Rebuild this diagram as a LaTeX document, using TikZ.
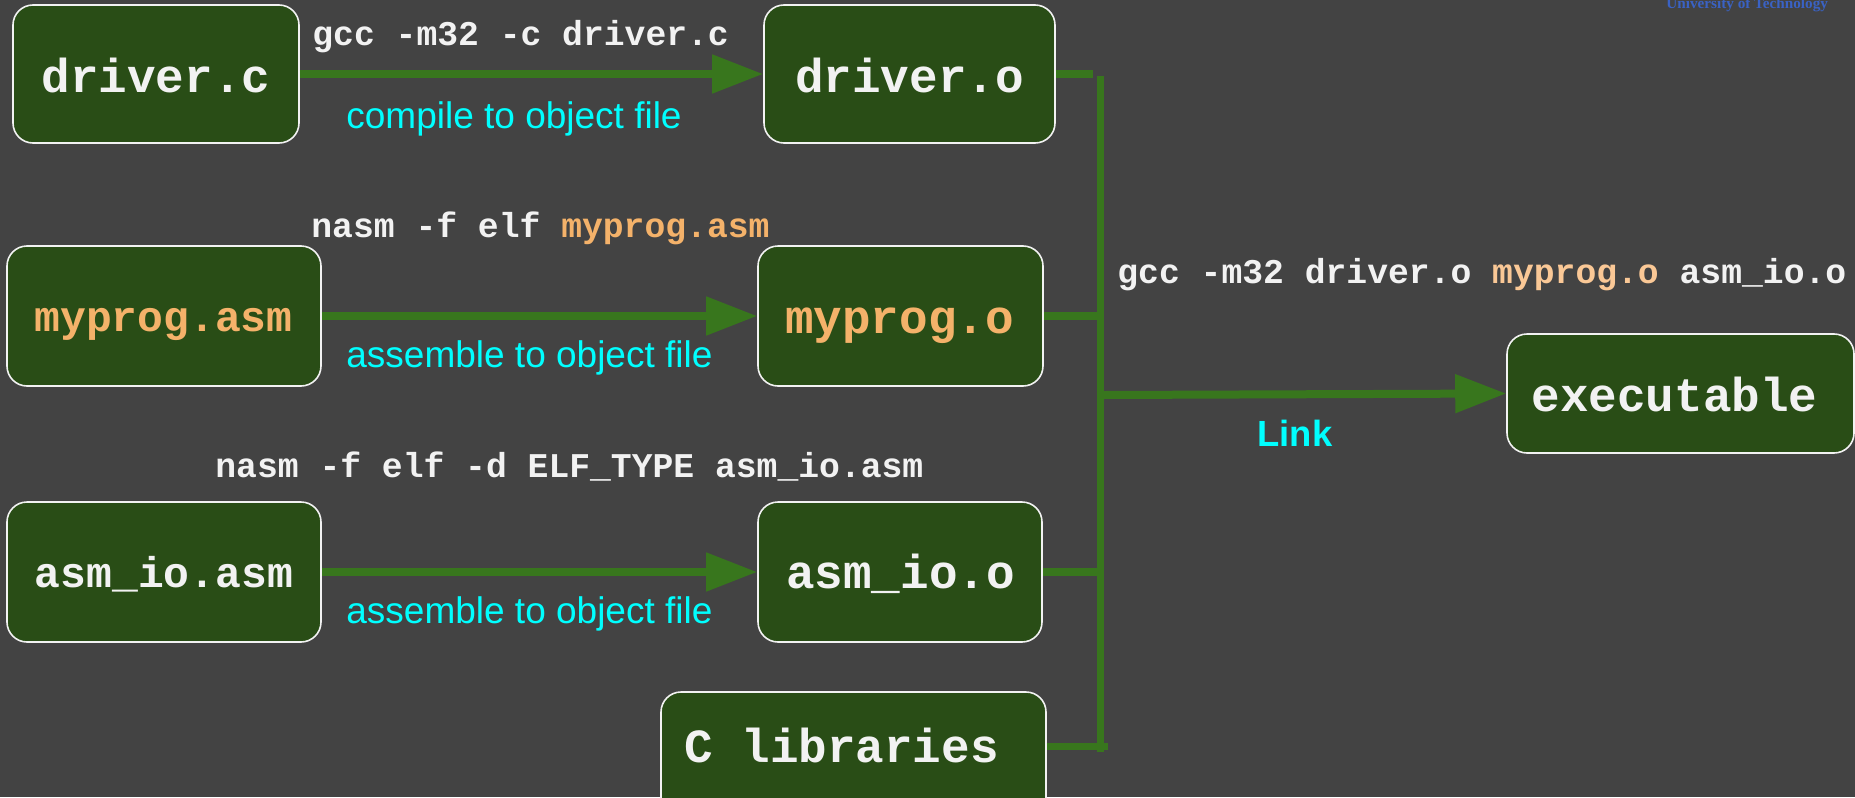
\documentclass[tikz,border=0pt]{standalone}
\usepackage{fontspec}
\setmainfont{Liberation Sans}
\newfontfamily\cmono{Liberation Mono}
\newfontfamily\ctimes{Liberation Serif}
\usetikzlibrary{arrows.meta}
\definecolor{bg}{RGB}{67,67,67}
\definecolor{boxfill}{RGB}{41,77,22}
\definecolor{flow}{RGB}{56,118,29}
\definecolor{boxtext}{RGB}{242,242,242}
\definecolor{orng}{RGB}{244,178,106}
\definecolor{lorng}{RGB}{250,200,150}
\definecolor{uni}{RGB}{58,98,196}
\definecolor{notecyan}{RGB}{0,255,255}
\begin{document}
\begin{tikzpicture}[x=0.5pt,y=-0.5pt,
  filebox/.style={draw=boxtext, line width=0.8pt, fill=boxfill, rounded corners=10pt, inner sep=0pt},
  boxlabel/.style={anchor=base, text=boxtext, inner sep=0pt, font=\cmono\bfseries\fontsize{23.8pt}{26pt}\selectfont},
  asmlabel/.style={anchor=base, text=boxtext, inner sep=0pt, font=\cmono\bfseries\fontsize{21.5pt}{24pt}\selectfont},
  cmd/.style={anchor=base west, text=boxtext, inner sep=0pt, font=\cmono\bfseries\fontsize{17.35pt}{20pt}\selectfont},
  note/.style={anchor=base west, text=notecyan, inner sep=0pt, font=\fontsize{18.5pt}{22pt}\selectfont},
  flowarrow/.style={draw=flow, line width=4pt, -{Triangle[length=25.5pt,width=18.5pt]}},
  busline/.style={draw=flow, line width=3.75pt},
  stubline/.style={draw=flow, line width=3.6pt}
]
\fill[bg] (0,0) rectangle (1855,797);
\useasboundingbox (0,0) rectangle (1855,797);

% boxes
\node[filebox, minimum width=143pt, minimum height=69pt] (drc) at (156,74) {};
\node[filebox, minimum width=145.5pt, minimum height=69pt] (dro) at (909.5,74) {};
\node[filebox, minimum width=157pt, minimum height=70pt] (mpa) at (164,316) {};
\node[filebox, minimum width=142.5pt, minimum height=70pt] (mpo) at (900.5,316) {};
\node[filebox, minimum width=157pt, minimum height=70pt] (aia) at (164,572) {};
\node[filebox, minimum width=142pt, minimum height=70pt] (aio) at (900,572) {};
\node[filebox, minimum width=173.5pt, minimum height=59.5pt] (exe) at (1680.5,393.5) {};
\node[filebox, minimum width=192.5pt, minimum height=69pt] (clib) at (853.5,761) {};

% box labels
\node[boxlabel] (drcT) at (156,92) {driver.c};
\node[boxlabel] (droT) at (909.5,92) {driver.o};
\node[asmlabel, text=orng] (mpaT) at (163.5,331) {myprog.asm};
\node[boxlabel, text=orng] (mpoT) at (899.5,333) {myprog.o};
\node[asmlabel] (aiaT) at (164,587) {asm\_io.asm};
\node[boxlabel] (aioT) at (900.5,588) {asm\_io.o};
\node[boxlabel] (exeT) at (1674.5,411) {executable};
\node[boxlabel] (clibT) at (841.5,762) {C libraries};

% compile / assemble arrows
\draw[flowarrow] (drc.east) -- (dro.west);
\draw[flowarrow] (mpa.east) -- (mpo.west);
\draw[flowarrow] (aia.east) -- (aio.west);

% link bus
\coordinate (busTop) at (1100.5,76);
\coordinate (busBot) at (1100.5,752);
\coordinate (droEnd) at (1093,74);
\coordinate (mpoEnd) at (1104,316);
\coordinate (aioEnd) at (1104,572);
\coordinate (clibEnd) at (1108,746.5);
\coordinate (linkStart) at (1104,395);
\draw[busline] (busTop) -- (busBot);
\draw[stubline] (dro.east) -- (droEnd);
\draw[stubline] (mpo.east) -- (mpoEnd);
\draw[stubline] (aio.east) -- (aioEnd);
\draw[stubline] ([yshift=7.25pt]clib.east) -- (clibEnd);
\draw[flowarrow] (linkStart) -- (exe.west);

% commands and notes
\node[cmd] (c1) at (312,46) {gcc -m32 -c driver.c};
\node[note] (n1) at (346,128) {compile to object file};
\node[cmd] (c2) at (311,237) {nasm -f elf \textcolor{orng}{myprog.asm}};
\node[note] (n2) at (346,367) {assemble to object file};
\node[cmd] (c3) at (215,477) {nasm -f elf -d ELF\_TYPE asm\_io.asm};
\node[note] (n3) at (346,623) {assemble to object file};
\node[cmd] (c4) at (1117,283) {gcc -m32 driver.o \textcolor{lorng}{myprog.o} asm\_io.o};
\node[note, font=\bfseries\fontsize{18.2pt}{22pt}\selectfont] (lnk) at (1257,446) {Link};
\node[anchor=base west, text=uni, inner sep=0pt, font=\ctimes\bfseries\fontsize{7.6pt}{9pt}\selectfont] (uni) at (1666,9) {University of Technology};
\end{tikzpicture}
\end{document}
